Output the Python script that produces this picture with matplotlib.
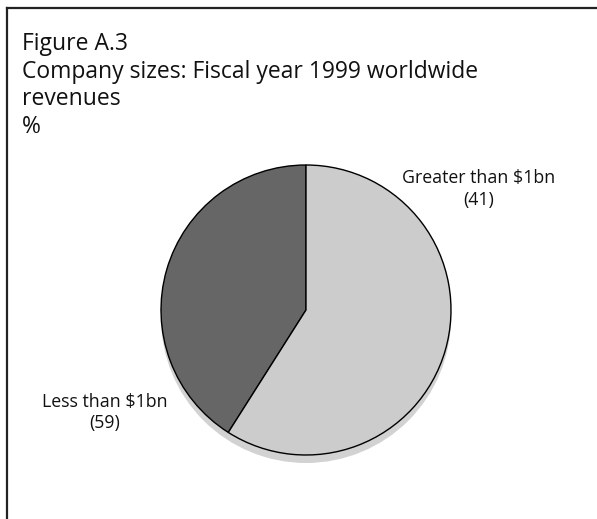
import matplotlib.pyplot as plt
from matplotlib.lines import Line2D
from matplotlib.patches import Circle

plt.rcParams['font.family'] = ['Open Sans', 'DejaVu Sans']

# company size shares, %
labels = ['Greater than $1bn', 'Less than $1bn']
shares = [41, 59]
colores = ['#666666', '#cccccc']

W, H = 597, 519
fig = plt.figure(figsize=(W / 100, H / 100), dpi=100)
ax = fig.add_axes([0, 0, 1, 1])
ax.set_xlim(0, W)
ax.set_ylim(0, H)
ax.set_aspect('equal')
ax.axis('off')

cx, cy, r = 306, H - 310, 145

# sombra debajo del pastel
ax.add_patch(Circle((cx, cy - 8), r, facecolor='#d2d2d2', edgecolor='none', zorder=1))

ax.pie(shares, colors=colores, startangle=90, counterclock=True,
       center=(cx, cy), radius=r, frame=True,
       wedgeprops=dict(edgecolor='black', linewidth=1.0, zorder=2))
ax.set_xlim(0, W)
ax.set_ylim(0, H)
ax.axis('off')

# etiquetas con su valor (y = linea base de la segunda linea)
ax.text(479, H - 205, labels[0] + '\n(%d)' % shares[0], ha='center', va='baseline',
        fontsize=12.8, linespacing=1.25, multialignment='center', color='#111111')
ax.text(105, H - 428, labels[1] + '\n(%d)' % shares[1], ha='center', va='baseline',
        fontsize=12.8, linespacing=1.25, multialignment='center', color='#111111')

# titulo
tit = ['Figure A.3', 'Company sizes: Fiscal year 1999 worldwide', 'revenues', '%']
for y, t in zip([50, 78, 105, 133], tit):
    ax.text(22, H - y, t, fontsize=16.5, va='baseline', color='#111111')

# marco (solo arriba e izquierda)
ax.add_line(Line2D([7, W], [H - 8, H - 8], color='#222222', linewidth=1.6))
ax.add_line(Line2D([7, 7], [H - 8, 0], color='#222222', linewidth=1.6))

plt.savefig('out.png', dpi=100)
